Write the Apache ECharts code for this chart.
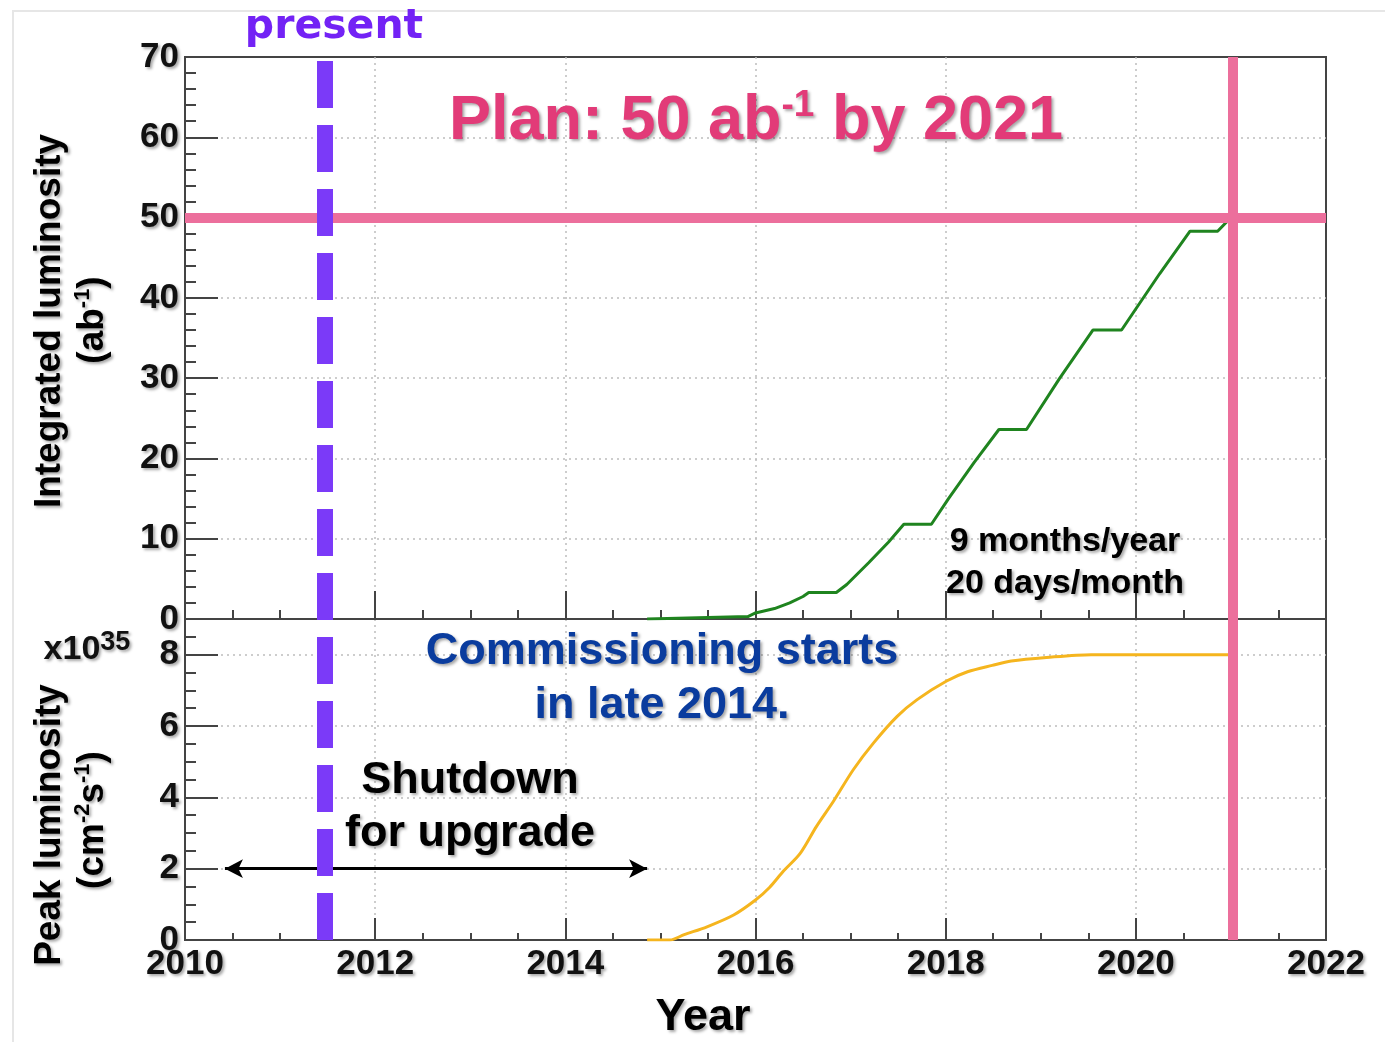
<!DOCTYPE html>
<html>
<head>
<meta charset="utf-8">
<script src="https://cdn.jsdelivr.net/npm/echarts@6/dist/echarts.min.js"></script>
<style>
  html, body { margin: 0; padding: 0; background: #fff; }
  #chart { width: 1385px; height: 1042px; }
</style>
</head>
<body>
<div id="chart"></div>
<script>
// Integrated luminosity projection (ab^-1) by year
const intYears = [2014.86, 2015.5, 2015.92, 2016.0, 2016.2, 2016.36, 2016.5, 2016.56, 2016.85, 2016.96, 2017.19, 2017.4, 2017.56, 2017.85, 2018.03, 2018.3, 2018.56, 2018.85, 2019.2, 2019.55, 2019.85, 2020.25, 2020.57, 2020.86, 2021.0];
const intLumi  = [0, 0.2, 0.3, 0.75, 1.3, 2.0, 2.8, 3.3, 3.3, 4.3, 7.0, 9.6, 11.8, 11.8, 15.0, 19.5, 23.6, 23.6, 30.0, 36.0, 36.0, 43.0, 48.3, 48.3, 50.0];

// Peak luminosity projection (x10^35 cm^-2 s^-1) by year
const peakYears = [2014.86, 2015.10, 2015.25, 2015.49, 2015.77, 2016.0, 2016.15, 2016.29, 2016.47, 2016.64, 2016.82, 2017.03, 2017.24, 2017.49, 2017.70, 2018.01, 2018.23, 2018.49, 2018.69, 2019.06, 2019.53, 2021.03];
const peakLumi  = [0, 0, 0.15, 0.37, 0.70, 1.12, 1.48, 1.92, 2.43, 3.18, 3.89, 4.78, 5.52, 6.27, 6.74, 7.26, 7.52, 7.7, 7.82, 7.92, 8.0, 8.0];

// Reference markers
const presentYear = 2011.47;
const planYear = 2021.02;
const planTarget = 50;
const shutdownSpan = [2010.42, 2014.86];
const shutdownLevel = 2;

// Axis ranges and tick steps
const xRange = [2010, 2022], xStep = 2;
const intRange = [0, 70], intStep = 10;
const peakRange = [0, 9], peakStep = 2;

const FONT = "'Liberation Sans', Arial, Helvetica, sans-serif";
const SHADOW = { textShadowColor: 'rgba(0,0,0,0.35)', textShadowBlur: 3, textShadowOffsetX: 2, textShadowOffsetY: 2 };
const AXIS_COLOR = '#444';
const GRID_LINE = { color: '#bdbdbd', width: 1.5, type: [2, 4] };
const PINK = '#ec6f9c';
const PURPLE = '#7b3af8';

function pairs(xs, ys) { return xs.map((x, i) => [x, ys[i]]); }

function xAxisFor(gridIndex, showLabels, tickLen, minorLen) {
  return {
    type: 'value', gridIndex, min: xRange[0], max: xRange[1], interval: xStep,
    axisLine: { lineStyle: { color: AXIS_COLOR, width: 2 } },
    axisTick: { inside: true, length: tickLen, lineStyle: { color: AXIS_COLOR, width: 2 } },
    minorTick: { show: true, splitNumber: 4, length: minorLen, lineStyle: { color: AXIS_COLOR, width: 2 } },
    splitLine: { show: true, showMinLine: false, showMaxLine: false, lineStyle: GRID_LINE },
    axisLabel: showLabels ? Object.assign({
      show: true, margin: 7, fontSize: 35, fontWeight: 'bold', fontFamily: FONT, color: '#111',
      showMinLabel: true, showMaxLabel: true, formatter: v => String(v)
    }, SHADOW) : { show: false }
  };
}

function yAxisFor(gridIndex, range, step, minorSplit) {
  return {
    type: 'value', gridIndex, min: range[0], max: range[1], interval: step,
    axisLine: { show: true, lineStyle: { color: AXIS_COLOR, width: 2 } },
    axisTick: { show: true, inside: true, length: 33, lineStyle: { color: AXIS_COLOR, width: 2 } },
    minorTick: { show: true, splitNumber: minorSplit, length: 11, lineStyle: { color: AXIS_COLOR, width: 2 } },
    splitLine: { show: true, showMinLine: false, showMaxLine: false, lineStyle: GRID_LINE },
    axisLabel: Object.assign({
      margin: 6, fontSize: 35, fontWeight: 'bold', fontFamily: FONT, color: '#111',
      formatter: v => (v % step === 0 ? String(v) : '')
    }, SHADOW)
  };
}

function rich(size, color, extra) {
  return Object.assign({ fontSize: size, fontWeight: 'bold', fontFamily: FONT, fill: color, color: color }, SHADOW, extra || {});
}

function label(x, y, text, size, color, opts) {
  return {
    type: 'text', x, y, rotation: (opts && opts.rotation) || 0, z: 100,
    style: Object.assign({
      text, fontSize: size, fontWeight: 'bold', fontFamily: FONT, fill: color,
      align: 'center', verticalAlign: 'middle'
    }, SHADOW, (opts && opts.style) || {})
  };
}

const chart = echarts.init(document.getElementById('chart'), null, { renderer: 'canvas' });

const option = {
  backgroundColor: '#fff',
  animation: false,
  grid: [
    { left: 185, top: 57, width: 1141, height: 562, show: true, borderColor: AXIS_COLOR, borderWidth: 2, backgroundColor: 'transparent' },
    { left: 185, top: 619, width: 1141, height: 321, show: true, borderColor: AXIS_COLOR, borderWidth: 2, backgroundColor: 'transparent' }
  ],
  xAxis: [ xAxisFor(0, false, 28, 9), xAxisFor(1, true, 22, 7) ],
  yAxis: [ yAxisFor(0, intRange, intStep, 5), yAxisFor(1, peakRange, peakStep, 4) ],
  series: [
    {
      name: 'Integrated luminosity', type: 'line', xAxisIndex: 0, yAxisIndex: 0, z: 2,
      data: pairs(intYears, intLumi), showSymbol: false, symbol: 'none',
      lineStyle: { color: '#1f841f', width: 3 }
    },
    {
      name: 'Peak luminosity', type: 'line', xAxisIndex: 1, yAxisIndex: 1, z: 2,
      data: pairs(peakYears, peakLumi), showSymbol: false, symbol: 'none', smooth: 0.3,
      lineStyle: { color: '#f5b51e', width: 3 },
      markLine: {
        silent: true, symbol: ['arrow', 'arrow'], symbolSize: [14, 18], label: { show: false },
        lineStyle: { color: '#000', width: 3, type: 'solid' },
        data: [[ { coord: [shutdownSpan[0], shutdownLevel] }, { coord: [shutdownSpan[1], shutdownLevel] } ]]
      }
    },
    {
      name: 'Target', type: 'line', xAxisIndex: 0, yAxisIndex: 0, z: 3, data: [],
      markLine: {
        silent: true, symbol: 'none', label: { show: false },
        lineStyle: { color: PINK, width: 10, type: 'solid' },
        data: [
          [ { coord: [xRange[0], planTarget] }, { coord: [xRange[1], planTarget] } ],
          [ { coord: [planYear, intRange[1]] }, { coord: [planYear, intRange[0]] } ]
        ]
      }
    },
    {
      name: 'Target end', type: 'line', xAxisIndex: 1, yAxisIndex: 1, z: 3, data: [],
      markLine: {
        silent: true, symbol: 'none', label: { show: false },
        lineStyle: { color: PINK, width: 10, type: 'solid' },
        data: [ [ { coord: [planYear, peakRange[1]] }, { coord: [planYear, peakRange[0]] } ] ]
      }
    },
    {
      name: 'Present', type: 'line', xAxisIndex: 0, yAxisIndex: 0, z: 4, data: [],
      markLine: {
        silent: true, symbol: 'none', label: { show: false },
        lineStyle: { color: PURPLE, width: 16, type: [47, 17], dashOffset: 60, cap: 'butt' },
        data: [ [ { coord: [presentYear, intRange[1]] }, { coord: [presentYear, intRange[0]] } ] ]
      }
    },
    {
      name: 'Present (lower)', type: 'line', xAxisIndex: 1, yAxisIndex: 1, z: 4, data: [],
      markLine: {
        silent: true, symbol: 'none', label: { show: false },
        lineStyle: { color: PURPLE, width: 16, type: [47, 17], dashOffset: 46, cap: 'butt' },
        data: [ [ { coord: [presentYear, peakRange[1]] }, { coord: [presentYear, peakRange[0]] } ] ]
      }
    }
  ],
  graphic: [
    // page frame
    { type: 'polyline', z: 0, shape: { points: [[13, 1042], [13, 11], [1385, 11]] }, style: { stroke: '#e6e6e6', lineWidth: 2, fill: null } },

    label(334, 27, 'present', 41, '#7322f5', { style: { fontFamily: "'DejaVu Sans', sans-serif", textShadowColor: 'rgba(0,0,0,0)' } }),

    {
      type: 'text', x: 756, y: 122, z: 100,
      style: {
        text: '{a|Plan: 50 ab}{s|-1}{a| by 2021}', align: 'center', verticalAlign: 'middle',
        rich: { a: rich(63, '#e23b78', { lineHeight: 70 }), s: rich(37, '#e23b78', { verticalAlign: 'top', lineHeight: 70 }) }
      }
    },

    label(1065, 542, '9 months/year', 34, '#000'),
    label(1065, 584, '20 days/month', 34, '#000'),

    label(662, 652, 'Commissioning starts', 45, '#0a3c9e'),
    label(662, 706, 'in late 2014.', 45, '#0a3c9e'),

    label(470, 781, 'Shutdown', 45, '#000'),
    label(470, 834, 'for upgrade', 45, '#000'),

    label(703, 1018, 'Year', 45, '#000'),

    label(50, 321, 'Integrated luminosity', 37, '#000', { rotation: Math.PI / 2 }),
    {
      type: 'text', x: 93, y: 320, rotation: Math.PI / 2, z: 100,
      style: {
        text: '{a|(ab}{s|-1}{a|)}', align: 'center', verticalAlign: 'middle',
        rich: { a: rich(37, '#000', { lineHeight: 42 }), s: rich(22, '#000', { verticalAlign: 'top', lineHeight: 42 }) }
      }
    },
    label(50, 825, 'Peak luminosity', 37, '#000', { rotation: Math.PI / 2 }),
    {
      type: 'text', x: 93, y: 820, rotation: Math.PI / 2, z: 100,
      style: {
        text: '{a|(cm}{s|-2}{a|s}{s|-1}{a|)}', align: 'center', verticalAlign: 'middle',
        rich: { a: rich(37, '#000', { lineHeight: 42 }), s: rich(22, '#000', { verticalAlign: 'top', lineHeight: 42 }) }
      }
    },
    {
      type: 'text', x: 87, y: 650, z: 100,
      style: {
        text: '{a|x10}{s|35}', align: 'center', verticalAlign: 'middle',
        rich: { a: rich(34, '#111', { lineHeight: 42 }), s: rich(27, '#111', { verticalAlign: 'top', lineHeight: 42 }) }
      }
    }
  ]
};

chart.setOption(option);
</script>
</body>
</html>
